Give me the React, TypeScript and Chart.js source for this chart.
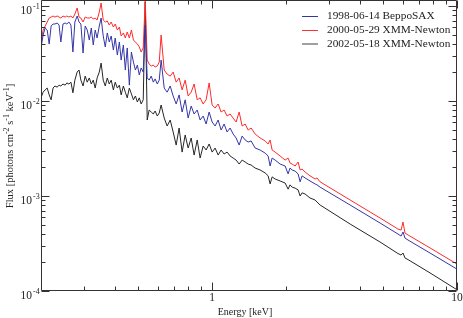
import React, { useEffect, useRef } from 'react';
import { Chart, registerables } from 'chart.js';

Chart.register(...registerables);

// Energy grid (keV)
const ENERGY_KEV = [
  0.200, 0.204, 0.208, 0.212, 0.216, 0.220, 0.224, 0.228, 0.233, 0.237,
  0.241, 0.246, 0.251, 0.255, 0.260, 0.265, 0.270, 0.275, 0.281, 0.286,
  0.291, 0.297, 0.303, 0.309, 0.315, 0.321, 0.327, 0.333, 0.339, 0.346,
  0.352, 0.359, 0.366, 0.373, 0.380, 0.387, 0.395, 0.402, 0.410, 0.418,
  0.425, 0.434, 0.442, 0.450, 0.459, 0.468, 0.477, 0.486, 0.495, 0.504,
  0.513, 0.523, 0.533, 0.543, 0.553, 0.564, 0.575, 0.585, 0.597, 0.608, 0.619,
  0.637, 0.655, 0.674, 0.693, 0.713, 0.733, 0.754, 0.776, 0.798, 0.821,
  0.844, 0.869, 0.893, 0.919, 0.945, 0.972, 1.000, 1.028, 1.058, 1.088,
  1.119, 1.151, 1.184, 1.218, 1.253, 1.289, 1.326, 1.364, 1.403, 1.443,
  1.498, 1.570, 1.646, 1.693, 1.725, 1.758, 1.808, 1.895, 1.986, 2.043,
  2.080, 2.121, 2.182, 2.244, 2.287, 2.330, 2.397, 2.510, 2.633, 2.680, 2.760,
  3.66, 4.85, 5.74, 5.91, 6.02, 6.13, 6.31, 7.76, 10.0,
];

// 1998-06-14 BeppoSAX (blue)
const FLUX_SAX_1998 = [
  0.0362, 0.0495, 0.0587, 0.0559, 0.0398, 0.0616, 0.0647, 0.0647, 0.0663, 0.0631,
  0.0418, 0.0647, 0.0663, 0.0647, 0.0679, 0.0631, 0.0328, 0.0679, 0.0785, 0.0679,
  0.0647, 0.0320, 0.0616, 0.0559, 0.0439, 0.0587, 0.0389, 0.0559, 0.0461, 0.0616,
  0.0748, 0.0484, 0.0371, 0.0521, 0.0418, 0.0484, 0.0344, 0.0461, 0.0305, 0.0418,
  0.0270, 0.0389, 0.0212, 0.0362, 0.0147, 0.0328, 0.0257, 0.0212, 0.0239, 0.0188,
  0.0223, 0.0202, 0.0631, 0.0175, 0.0166, 0.0183, 0.0158, 0.0171, 0.0151, 0.0166, 0.0270,
  0.0137, 0.0124, 0.0144, 0.0113, 0.00931, 0.0116, 0.00766, 0.0103, 0.00662, 0.00886,
  0.00730, 0.00804, 0.00631, 0.00695, 0.00573, 0.00766, 0.00601, 0.00546, 0.00631, 0.00495,
  0.00573, 0.00472, 0.00520, 0.00450, 0.00408, 0.00344, 0.00428, 0.00389, 0.00370, 0.00380,
  0.00320, 0.00305, 0.00283, 0.00264, 0.00207, 0.00251, 0.00239, 0.00217, 0.00207, 0.00171,
  0.00197, 0.00188, 0.00183, 0.00171, 0.00141, 0.00163, 0.00155, 0.00144, 0.00134, 0.00131, 0.00124,
  0.000804, 0.000520, 0.000398, 0.000379, 0.000418, 0.000361, 0.000344, 0.000251, 0.000170,
];

// 2000-05-29 XMM-Newton (red)
const FLUX_XMM_2000 = [
  0.0418, 0.0559, 0.0616, 0.0679, 0.0748, 0.0766, 0.0785, 0.0766, 0.0785, 0.0766,
  0.0748, 0.0785, 0.0766, 0.0785, 0.0766, 0.0785, 0.0748, 0.0824, 0.0953, 0.0766,
  0.0748, 0.0679, 0.0766, 0.0748, 0.0748, 0.0766, 0.0730, 0.0748, 0.0713, 0.0865,
  0.1076, 0.0713, 0.0679, 0.0696, 0.0631, 0.0679, 0.0601, 0.0647, 0.0559, 0.0601,
  0.0484, 0.0521, 0.0461, 0.0533, 0.0461, 0.0559, 0.0439, 0.0418, 0.0398, 0.0371,
  0.0328, 0.0362, 0.1156, 0.0270, 0.0245, 0.0234, 0.0239, 0.0228, 0.0234, 0.0257, 0.0495,
  0.0212, 0.0192, 0.0183, 0.0202, 0.0158, 0.0175, 0.0131, 0.0166, 0.0113, 0.0124,
  0.0151, 0.0103, 0.0108, 0.00931, 0.0103, 0.0155, 0.00908, 0.00844, 0.00931, 0.00766,
  0.00804, 0.00695, 0.00730, 0.00662, 0.00601, 0.00766, 0.00546, 0.00573, 0.00495, 0.00520,
  0.00450, 0.00408, 0.00380, 0.00353, 0.00389, 0.00305, 0.00290, 0.00264, 0.00239, 0.00251,
  0.00223, 0.00217, 0.00207, 0.00228, 0.00188, 0.00192, 0.00179, 0.00163, 0.00151, 0.00155, 0.00141,
  0.000908, 0.000587, 0.000449, 0.000438, 0.000532, 0.000408, 0.000389, 0.000284, 0.000192,
];

// 2002-05-18 XMM-Newton (black)
const FLUX_XMM_2002 = [
  0.0108, 0.0124, 0.0131, 0.0137, 0.0116, 0.0103, 0.0137, 0.0144, 0.0140, 0.0147,
  0.0144, 0.0151, 0.0147, 0.0155, 0.0151, 0.0158, 0.0122, 0.0166, 0.0202, 0.0212,
  0.0166, 0.0144, 0.0183, 0.0158, 0.0175, 0.0151, 0.0166, 0.0137, 0.0175, 0.0202,
  0.0251, 0.0166, 0.0144, 0.0175, 0.0151, 0.0166, 0.0131, 0.0158, 0.0137, 0.0147,
  0.0116, 0.0144, 0.0124, 0.0108, 0.0137, 0.0119, 0.0103, 0.0113, 0.00977, 0.0108,
  0.00931, 0.0103, 0.1102, 0.00631, 0.00804, 0.00766, 0.00730, 0.00785, 0.00695, 0.00748, 0.00908,
  0.00662, 0.00546, 0.00631, 0.00472, 0.00344, 0.00520, 0.00290, 0.00439, 0.00320, 0.00408,
  0.00270, 0.00389, 0.00251, 0.00336, 0.00305, 0.00353, 0.00290, 0.00320, 0.00270, 0.00305,
  0.00277, 0.00290, 0.00264, 0.00251, 0.00239, 0.00217, 0.00239, 0.00228, 0.00217, 0.00212,
  0.00197, 0.00188, 0.00175, 0.00163, 0.00134, 0.00159, 0.00151, 0.00144, 0.00137, 0.00118,
  0.00131, 0.00124, 0.00121, 0.00116, 0.00100, 0.00108, 0.00105, 0.000953, 0.000908, 0.000865, 0.000804,
  0.000507, 0.000328, 0.000248, 0.000239, 0.000251, 0.000223, 0.000214, 0.000155, 0.000103,
];

const SERIES_LABELS = ['1998-06-14 BeppoSAX', '2000-05-29 XMM-Newton', '2002-05-18 XMM-Newton'];
const SERIES_COLORS = ['#3535a8', '#ff2a2a', '#262626'];
const LEGEND_COLORS = ['rgb(53,53,168)', 'rgb(255,50,50)', 'rgb(160,160,160)'];

const X_MIN = 0.2;
const X_MAX = 10;
const Y_MIN = 1e-4;
const Y_MAX = 0.113;
const X_MAJOR_TICKS = [1, 10];
const X_MINOR_TICKS = [0.3, 0.4, 0.5, 0.6, 0.7, 0.8, 0.9, 2, 3, 4, 5, 6, 7, 8, 9];
const X_TICK_LABELS = ['1', '10'];
const Y_TICK_EXPONENTS = [-4, -3, -2, -1];
const Y_MINOR_MULTS = [2, 3, 4, 5, 6, 7, 8, 9];
const X_TITLE = 'Energy [keV]';
const Y_TITLE_PARTS: [string, boolean][] = [
  ['Flux [photons cm', false], ['-2', true], [' s', false], ['-1', true], [' keV', false], ['-1', true], [']', false],
];

const SERIF = "'Liberation Serif', 'Times New Roman', serif";

function drawParts(ctx: CanvasRenderingContext2D, parts: [string, boolean][], x: number, y: number, size: number, supSize: number, supRise: number, align: 'left' | 'center' | 'right') {
  const widths = parts.map(([t, s]) => {
    ctx.font = `${s ? supSize : size}px ${SERIF}`;
    return ctx.measureText(t).width;
  });
  const total = widths.reduce((a, b) => a + b, 0);
  let cx = align === 'left' ? x : align === 'center' ? x - total / 2 : x - total;
  ctx.textAlign = 'left';
  ctx.textBaseline = 'alphabetic';
  parts.forEach(([t, s], i) => {
    ctx.font = `${s ? supSize : size}px ${SERIF}`;
    ctx.fillText(t, cx, s ? y - supRise : y);
    cx += widths[i];
  });
}

const framePlugin = {
  id: 'graceFrame',
  afterDatasetsDraw(chart: any) {
    const { ctx, chartArea: a, scales } = chart;
    const xs = scales.x;
    const ys = scales.y;
    ctx.save();
    ctx.strokeStyle = '#333';
    ctx.fillStyle = '#222';
    ctx.lineWidth = 1;
    const L = a.left + 0.5, R = a.right - 0.5, T = a.top - 0.5, B = a.bottom - 0.5;
    ctx.beginPath();
    ctx.rect(L, T, R - L, B - T);
    ctx.stroke();

    const xTick = (v: number, len: number) => {
      const px = Math.round(xs.getPixelForValue(v)) + 0.5;
      ctx.beginPath();
      ctx.moveTo(px, B); ctx.lineTo(px, B - len);
      ctx.moveTo(px, T); ctx.lineTo(px, T + len);
      ctx.stroke();
    };
    const yTick = (v: number, len: number) => {
      const py = Math.round(ys.getPixelForValue(v)) + 0.5;
      ctx.beginPath();
      ctx.moveTo(L, py); ctx.lineTo(L + len, py);
      ctx.moveTo(R, py); ctx.lineTo(R - len, py);
      ctx.stroke();
    };
    X_MINOR_TICKS.forEach((v) => xTick(v, 4));
    X_MAJOR_TICKS.forEach((v) => xTick(v, 8));
    Y_TICK_EXPONENTS.forEach((e) => {
      yTick(Math.pow(10, e), 8);
      Y_MINOR_MULTS.forEach((m) => {
        const v = m * Math.pow(10, e);
        if (v < Y_MAX) yTick(v, 4);
      });
    });

    // x tick labels
    ctx.font = `11.5px ${SERIF}`;
    ctx.textAlign = 'center';
    ctx.textBaseline = 'alphabetic';
    X_MAJOR_TICKS.forEach((v, i) => {
      ctx.fillText(X_TICK_LABELS[i], xs.getPixelForValue(v), a.bottom + 10);
    });
    // y tick labels
    Y_TICK_EXPONENTS.forEach((e) => {
      const py = ys.getPixelForValue(Math.pow(10, e));
      ctx.font = `11.5px ${SERIF}`;
      ctx.textAlign = 'right';
      ctx.fillText('10', a.left - 9, py + 8);
      ctx.font = `8px ${SERIF}`;
      ctx.textAlign = 'left';
      ctx.fillText(String(e), a.left - 8, py + 3);
    });

    // x title
    ctx.font = `10px ${SERIF}`;
    ctx.textAlign = 'center';
    ctx.fillText(X_TITLE, 245, a.bottom + 24);

    // y title
    ctx.save();
    ctx.translate(13, (a.top + a.bottom) / 2);
    ctx.rotate(-Math.PI / 2);
    drawParts(ctx, Y_TITLE_PARTS, 0, 0, 10.5, 8, 4, 'center');
    ctx.restore();

    // legend
    const rows = [16, 30, 44];
    SERIES_LABELS.forEach((lab, i) => {
      ctx.save();
      ctx.strokeStyle = LEGEND_COLORS[i];
      ctx.lineWidth = i === 2 ? 2 : 1;
      ctx.beginPath();
      ctx.moveTo(302, i === 2 ? rows[i] : rows[i] + 0.5);
      ctx.lineTo(318, i === 2 ? rows[i] : rows[i] + 0.5);
      ctx.stroke();
      ctx.restore();
      ctx.fillStyle = '#222';
      ctx.font = `11.3px ${SERIF}`;
      ctx.textAlign = 'left';
      ctx.textBaseline = 'middle';
      ctx.fillText(lab, 327, rows[i] + 0.5);
    });
    ctx.restore();
  },
};

export default function App() {
  const ref = useRef<HTMLCanvasElement | null>(null);
  useEffect(() => {
    document.body.style.margin = '0';
    const seriesList = [FLUX_SAX_1998, FLUX_XMM_2000, FLUX_XMM_2002];
    const chart = new Chart(ref.current as HTMLCanvasElement, {
      type: 'scatter',
      data: {
        datasets: seriesList.map((flux, i) => ({
          label: SERIES_LABELS[i],
          data: ENERGY_KEV.map((e, j) => ({ x: e, y: flux[j] })),
          showLine: true,
          borderColor: SERIES_COLORS[i],
          backgroundColor: SERIES_COLORS[i],
          borderWidth: 1,
          pointRadius: 0,
          tension: 0,
        })),
      },
      options: {
        animation: false,
        responsive: true,
        maintainAspectRatio: false,
        devicePixelRatio: 1,
        layout: { padding: { left: 41, right: 6, top: 1, bottom: 27 } },
        plugins: { legend: { display: false }, tooltip: { enabled: false } },
        events: [],
        scales: {
          x: { type: 'logarithmic', min: X_MIN, max: X_MAX, display: false },
          y: { type: 'logarithmic', min: Y_MIN, max: Y_MAX, display: false },
        },
      },
      plugins: [framePlugin],
    });
    return () => chart.destroy();
  }, []);
  return (
    <div style={{ position: 'relative', width: 463, height: 318 }}>
      <canvas ref={ref} />
    </div>
  );
}
